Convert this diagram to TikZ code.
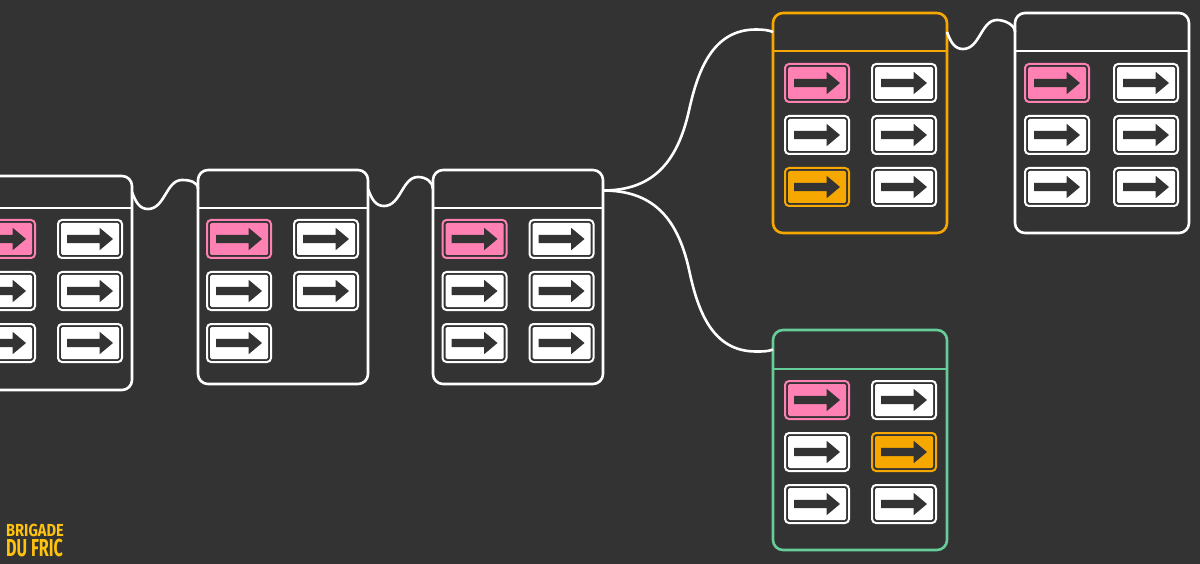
\documentclass[tikz,border=0pt]{standalone}
\usepackage{fontspec}
\usepackage{xcolor}
\usetikzlibrary{positioning, shapes.arrows}
\newfontfamily\brandtopfont[FakeStretch=0.84]{Fira Sans}
\newfontfamily\brandbotfont[FakeStretch=0.66]{Fira Sans}
\definecolor{darkbg}{HTML}{333333}
\definecolor{tickpink}{HTML}{FF80B2}
\definecolor{tickorange}{HTML}{F7A800}
\definecolor{tickwhite}{HTML}{FFFFFF}
\definecolor{mint}{HTML}{66CC99}
\definecolor{brandyellow}{HTML}{FFC20E}

\newcommand{\ticket}[3]{%
  \node[tickbox=#3, #2] (#1) {};
  \node[tickfill=#3] (#1in) at (#1) {};
  \node[tickarrow, xshift=-2.5pt] (#1arrow) at (#1) {};
}

\begin{document}
\begin{tikzpicture}[x=1pt, y=-1pt,
    head/.style={minimum width=#1, inner sep=0, outer sep=0},
    block/.style={draw=#1, line width=2.6pt, rounded corners=10pt, fill=none, inner sep=0, outer sep=0},
    divider/.style={draw=#1, line width=2.6pt},
    link/.style={draw=white, line width=2.6pt},
    tickbox/.style={draw=#1, fill=darkbg, line width=2pt, rounded corners=4pt, minimum width=64pt, minimum height=38pt, inner sep=0, outer sep=1pt},
    tickfill/.style={fill=#1, rounded corners=1.5pt, minimum width=58pt, minimum height=32pt, inner sep=0},
    tickarrow/.style={single arrow, fill=darkbg, text height=8pt, text depth=0pt, text width=0pt, minimum height=46pt, minimum width=22pt, single arrow head extend=7pt, single arrow tip angle=80, inner sep=0},
    brand/.style={text=brandyellow, inner sep=0, anchor=base west, text depth=0pt}]
\useasboundingbox (0,0) rectangle (1200,564);
\fill[darkbg] (0,0) rectangle (1200,564);

% headers
\node[head=170pt, minimum height=32pt] (headA) at (47,192) {};
\node[head=170pt, minimum height=38pt] (headB) at (283,189) {};
\node[head=170pt, minimum height=38pt, right=65pt of headB] (headC) {};
\node[head=174pt, minimum height=38pt] (headD) at (860,32) {};
\node[head=174pt, minimum height=38pt, right=68pt of headD] (headE) {};
\node[head=174pt, minimum height=39pt] (headF) at (860,349.5) {};

% bodies
\node[block=white, minimum width=170pt, minimum height=214pt, below=-32pt of headA.south] (blockA) {};
\node[block=white, minimum width=170pt, minimum height=214pt, below=-38pt of headB.south] (blockB) {};
\node[block=white, minimum width=170pt, minimum height=214pt, below=-38pt of headC.south] (blockC) {};
\node[block=tickorange, minimum width=174pt, minimum height=220pt, below=-38pt of headD.south] (blockD) {};
\node[block=white, minimum width=174pt, minimum height=220pt, below=-38pt of headE.south] (blockE) {};
\node[block=mint, minimum width=174pt, minimum height=220pt, below=-39pt of headF.south] (blockF) {};

\draw[divider=white] (headA.south west) -- (headA.south east);
\draw[divider=white] (headB.south west) -- (headB.south east);
\draw[divider=white] (headC.south west) -- (headC.south east);
\draw[divider=tickorange] (headD.south west) -- (headD.south east);
\draw[divider=white] (headE.south west) -- (headE.south east);
\draw[divider=mint] (headF.south west) -- (headF.south east);

% tickets
\foreach \blk/\dx/\gapy/\gapx/\cc/\cd/\ce in {A/-44/11/21/tickwhite/tickwhite/tickwhite,
    B/-44/11/21/tickwhite/tickwhite/tickwhite,
    C/-43.5/11/21/tickwhite/tickwhite/tickwhite,
    D/-43/12/21/tickwhite/tickwhite/tickorange,
    E/-45/12/23/tickwhite/tickwhite/tickwhite,
    F/-43/11/21/tickwhite/tickorange/tickwhite} {
  \ticket{t\blk1}{below=\gapy pt of head\blk.south, xshift=\dx pt}{tickpink}
  \ticket{t\blk2}{right=\gapx pt of t\blk1}{tickwhite}
  \ticket{t\blk3}{below=12pt of t\blk1}{\cc}
  \ticket{t\blk4}{right=\gapx pt of t\blk3}{\cd}
  \ticket{t\blk5}{below=12pt of t\blk3}{\ce}
}
\ticket{tA6}{right=21pt of tA5}{tickwhite}
\ticket{tC6}{right=21pt of tC5}{tickwhite}
\ticket{tD6}{right=21pt of tD5}{tickwhite}
\ticket{tE6}{right=23pt of tE5}{tickwhite}
\ticket{tF6}{right=21pt of tF5}{tickwhite}

% connectors
\foreach \from/\to in {headA/headB, headB/headC, headD/headE} {
  \draw[link] (\from.east) .. controls +(4,11) and +(-8,0) .. ++(16,17)
    .. controls +(17,0) and +(-16,0) .. ++(34,-29)
    .. controls +(8,0) and +(0,-7) .. (\to.west);
}
\draw[link] ([yshift=-1.5pt]headC.east) .. controls +(48,0) and +(-12,54) .. ++(86,-80)
    .. controls +(9,-41) and +(-43,0) .. ++(67,-81)
    .. controls +(7,0) and +(-5,-2) .. (headD.west);
\draw[link] ([yshift=-1.5pt]headC.east) .. controls +(48,0) and +(-12,-54) .. ++(86,79)
    .. controls +(9,43) and +(-43,0) .. ++(67,82)
    .. controls +(7,0) and +(-5,2) .. (headF.west);

\node[brand, text height=12pt, font=\brandtopfont\bfseries\fontsize{17.4}{18}\selectfont] (brandtop) at (6,536.5) {BRIGADE};
\node[brand, text height=17pt, font=\brandbotfont\bfseries\fontsize{24.5}{25}\selectfont] (brandbot) at (6,556) {DU FRIC};
\end{tikzpicture}
\end{document}
